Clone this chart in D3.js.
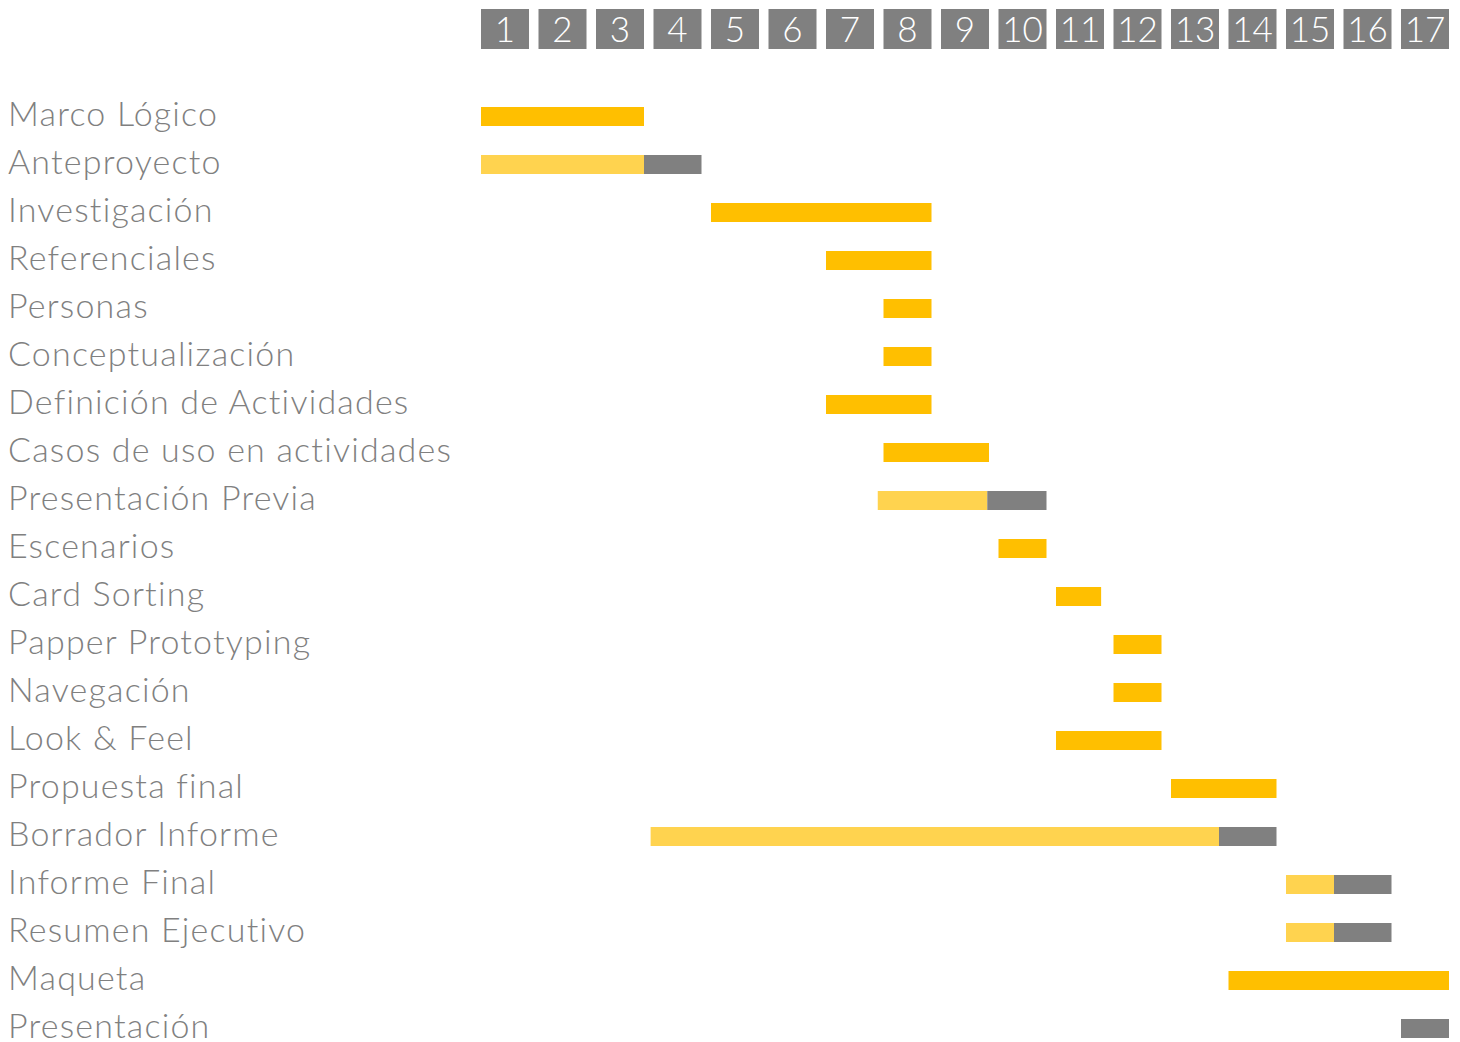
<!DOCTYPE html>
<html>
<head>
<meta charset="utf-8">
<script src="https://cdn.jsdelivr.net/npm/d3@7"></script>
<style>
  body { margin: 0; background: #fff; }
  text { font-family: Lato, "Open Sans", sans-serif; font-weight: 300; }
</style>
</head>
<body>
<div id="container"></div>
<script>
const weekLabels = ["1","2","3","4","5","6","7","8","9","10","11","12","13","14","15","16","17"];

const tasks = [
  "Marco Lógico", "Anteproyecto", "Investigación", "Referenciales", "Personas",
  "Conceptualización", "Definición de Actividades", "Casos de uso en actividades",
  "Presentación Previa", "Escenarios", "Card Sorting", "Papper Prototyping",
  "Navegación", "Look & Feel", "Propuesta final", "Borrador Informe",
  "Informe Final", "Resumen Ejecutivo", "Maqueta", "Presentación"
];

// start week, last week of first segment, last week of grey tail (null = none)
const startWeek = [1, 1, 5, 7, 8, 8, 7, 8, 7.9, 10, 11, 12, 12, 11, 13, 3.95, 15, 15, 14, 17];
const mainEnd   = [3, 3, 8, 8, 8, 8, 8, 9, 8.97, 10, 10.95, 12, 12, 12, 14, 13, 15, 15, 17, null];
const greyEnd   = [null, 4, null, null, null, null, null, null, 10, null, null, null, null, null, null, 14, 16, 16, null, 17];

const color = { main: "#FFBF00", light: "#FFD34F", grey: "#808080" };

const width = 1460, height = 1042;
const step = 57.5, gap = 9.5;

const svg = d3.select("#container").append("svg")
  .attr("width", width)
  .attr("height", height);

const x = d3.scaleLinear().domain([1, 18]).range([481, 481 + 17 * step]);
const xEnd = (w) => x(w + 1) - gap;

const y = d3.scaleBand().domain(tasks).range([92.5, 92.5 + tasks.length * 48]);
const barH = 19;

// header week boxes
const head = svg.append("g").attr("class", "weeks")
  .selectAll("g")
  .data(weekLabels)
  .enter()
  .append("g");

head.append("rect")
  .attr("x", (d) => x(+d))
  .attr("y", 9)
  .attr("width", step - gap)
  .attr("height", 40)
  .style("fill", color.grey);

head.append("text")
  .attr("x", (d) => x(+d) + (step - gap) / 2)
  .attr("y", 42)
  .attr("text-anchor", "middle")
  .style("font-size", "35px")
  .style("fill", "#fff")
  .text((d) => d);

// task labels
svg.append("g").attr("class", "labels")
  .selectAll("text")
  .data(tasks)
  .enter()
  .append("text")
  .attr("x", 8)
  .attr("y", (d) => y(d) + y.bandwidth() / 2)
  .attr("dy", "0.27em")
  .style("font-size", "34px")
  .style("letter-spacing", "1.2px")
  .style("fill", "#808080")
  .text((d) => d);

// bars
const segs = [];
tasks.forEach((t, i) => {
  const s = startWeek[i];
  if (mainEnd[i] !== null) {
    segs.push({ task: t, x0: x(s), x1: xEnd(mainEnd[i]), fill: greyEnd[i] !== null ? color.light : color.main });
    if (greyEnd[i] !== null)
      segs.push({ task: t, x0: xEnd(mainEnd[i]), x1: xEnd(greyEnd[i]), fill: color.grey });
  } else {
    segs.push({ task: t, x0: x(s), x1: xEnd(greyEnd[i]), fill: color.grey });
  }
});

svg.append("g").attr("class", "bars")
  .selectAll("rect")
  .data(segs)
  .enter()
  .append("rect")
  .attr("x", (d) => d.x0)
  .attr("y", (d) => y(d.task) + y.bandwidth() / 2 - barH / 2)
  .attr("width", (d) => d.x1 - d.x0)
  .attr("height", barH)
  .style("fill", (d) => d.fill);
</script>
</body>
</html>
